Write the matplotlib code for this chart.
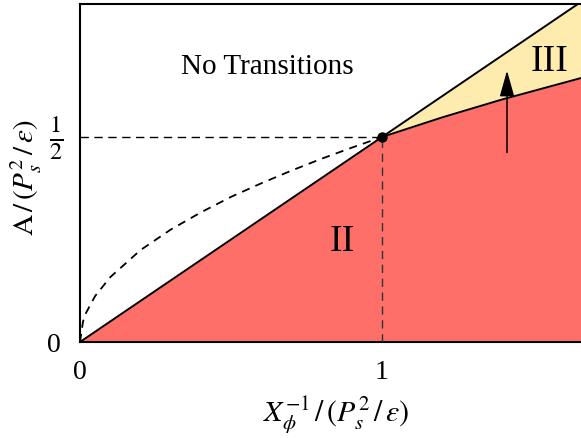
import matplotlib
matplotlib.use("Agg")
import matplotlib.pyplot as plt

plt.rcParams['font.family'] = ['Liberation Serif', 'DejaVu Serif']
plt.rcParams['mathtext.fontset'] = 'stix'

# Data
upper_x = [0.0, 1.66]
upper_y = [0.0, 0.83]
lower_x = [1.0, 1.1, 1.2, 1.3, 1.4, 1.5, 1.6, 1.66]
lower_y = [0.5, 0.524, 0.548, 0.570, 0.592, 0.612, 0.632, 0.644]
dash_x = [0.0, 0.01, 0.02, 0.05, 0.1, 0.2, 0.3, 0.4, 0.5, 0.6, 0.7, 0.8, 0.9, 1.0]
dash_y = [0.0, 0.05, 0.071, 0.112, 0.158, 0.224, 0.274, 0.316, 0.354, 0.387, 0.418, 0.447, 0.474, 0.5]
crit_point = (1.0, 0.5)
arrow_x = 1.414
arrow_y = (0.462, 0.662)
xticks = [0, 1]
xticklabels = ['0', '1']
yticks = [0, 0.5]
yticklabels = ['0', '']
half_label = r'$\frac{1}{2}$'

red = '#ff6f6a'
yellow = '#feecae'

fig = plt.figure(figsize=(5.81, 4.39), dpi=100)
ax = fig.add_axes([80/581, 96/439, 501/581, 338/439])
ax.set_xlim(0, 1.659)
ax.set_ylim(0, 0.8244)

# red region (II): below line for x<1 and below curve for x>1
red_x = [upper_x[0], crit_point[0]] + lower_x[1:]
red_y = [upper_y[0], crit_point[1]] + lower_y[1:]
ax.fill_between(red_x, 0, red_y, color=red, lw=0, zorder=1)

# yellow region (III): between upper line and lower curve
up_interp = [x * upper_y[1] / upper_x[1] for x in lower_x]
ax.fill_between(lower_x, lower_y, up_interp, color=yellow, lw=0, zorder=1)

ax.plot(upper_x, upper_y, color='k', lw=1.4, zorder=3)
ax.plot(lower_x, lower_y, color='k', lw=1.4, zorder=3)
ax.plot(dash_x, dash_y, color='k', lw=1.3, ls=(0, (4.5, 3.5)), zorder=3)
ax.plot([0, crit_point[0]], [crit_point[1], crit_point[1]], color='k', lw=1.0, ls=(0, (6, 4)), zorder=3)
ax.plot([crit_point[0], crit_point[0]], [0, crit_point[1]], color='#333333', lw=1.0, ls=(0, (6, 4)), zorder=3)
ax.plot([crit_point[0]], [crit_point[1]], 'o', color='k', ms=6.5, zorder=4)

ax.annotate('', xy=(arrow_x, arrow_y[1]), xytext=(arrow_x, arrow_y[0]),
            arrowprops=dict(arrowstyle='-|>,head_length=1.6,head_width=0.45',
                            lw=1.1, color='k', mutation_scale=10, shrinkA=0, shrinkB=0),
            zorder=5)

ax.text(0.62, 0.672, 'No Transitions', fontsize=21, ha='center', va='center')
ax.text(0.87, 0.246, 'II', fontsize=27, ha='center', va='center')
ax.text(1.556, 0.685, 'III', fontsize=27, ha='center', va='center')

ax.set_xticks(xticks)
ax.set_xticklabels(xticklabels, fontsize=20)
ax.set_yticks(yticks)
ax.set_yticklabels(yticklabels, fontsize=20)
ax.tick_params(length=0, pad=12)
ax.tick_params(axis='y', pad=14)
# the 1/2 tick label, drawn at the y=0.5 tick
ax.text(-24/501, yticks[1], half_label, fontsize=25, ha='center', va='center',
        transform=ax.get_yaxis_transform())

for s in ['left', 'top', 'bottom']:
    ax.spines[s].set_linewidth(1.5)
ax.spines['right'].set_visible(False)

fig.text(336/581, 1 - 415/439, r'$X_\phi^{-1}\,/\,(P_s^2\,/\,\varepsilon)$', fontsize=21.5,
         ha='center', va='center')
fig.text(26/581, 1 - 178/439, r'$\mathrm{A}\,/\,(P_s^2\,/\,\varepsilon)$', fontsize=21,
         ha='center', va='center', rotation=90)

fig.savefig('out.png', dpi=100)
